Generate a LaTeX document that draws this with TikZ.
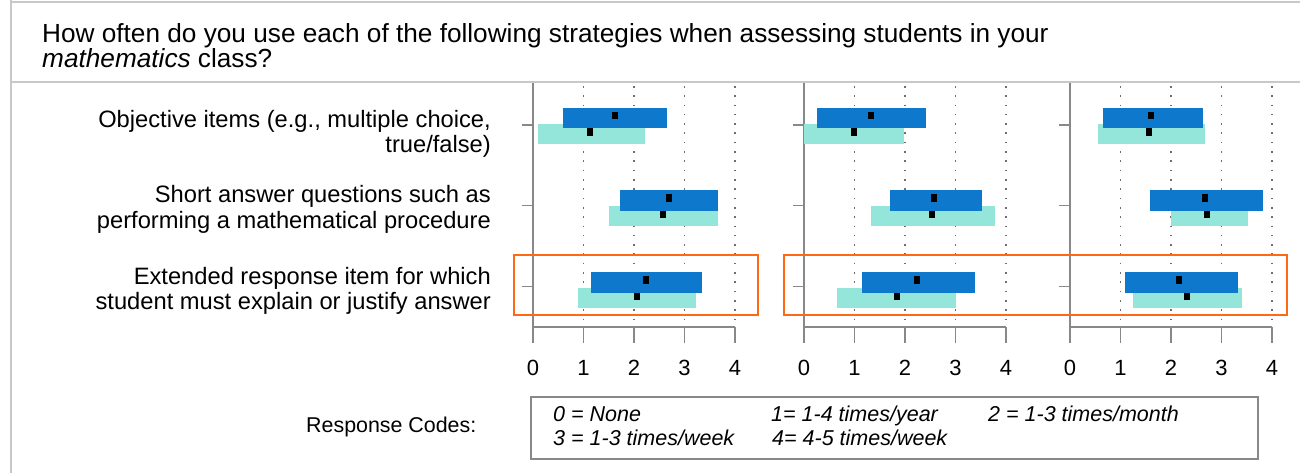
\documentclass[tikz,border=0pt]{standalone}
\usepackage{fontspec}
\setmainfont{Liberation Sans}
\definecolor{barDark}{RGB}{14,120,204}
\definecolor{barLight}{RGB}{148,230,218}
\definecolor{frameGray}{RGB}{200,200,200}
\definecolor{axisGray}{RGB}{136,136,136}
\definecolor{dotGray}{RGB}{110,110,110}
\definecolor{hiOrange}{RGB}{255,105,20}
% one pair of bars for a panel row:
% #1 top of the dark bar, #2 #3 dark bar ends, #4 dark marker,
% #5 #6 light bar ends, #7 light marker
\newcommand\statbars[7]{%
  \fill[barLight] (#5,#1+16) rectangle (#6,#1+35.7);
  \fill[barDark] (#2,#1) rectangle (#3,#1+20.5);
  \fill[black] (#4-3,#1+4) rectangle (#4+3,#1+11.5);
  \fill[black] (#7-3,#1+20.5) rectangle (#7+3,#1+28);
}
\begin{document}
\begin{tikzpicture}[x=1pt,y=-1pt,
  frame/.style={draw=frameGray,line width=2pt},
  axisline/.style={draw=axisGray,line width=1.5pt},
  griddot/.style={draw=dotGray,line width=1.6pt,dash pattern=on 1.6pt off 7.7pt},
  hibox/.style={draw=hiOrange,line width=2pt},
  legendbox/.style={draw=axisGray,line width=1.8pt},
  title/.style={anchor=base west,inner sep=0pt,font=\fontsize{26.2}{26}\selectfont},
  rowlabel/.style={anchor=base east,inner sep=0pt,font=\fontsize{23.7}{24}\selectfont},
  ticklabel/.style={anchor=base,inner sep=0pt,font=\fontsize{22}{22}\selectfont},
  code/.style={anchor=base west,inner sep=0pt,font=\fontsize{21.5}{21}\selectfont\itshape}]
\useasboundingbox (0,0) rectangle (1300,473);
\fill[white] (0,0) rectangle (1300,473);

% outer frame and header divider
\draw[frame] (11,0) -- (11,473);
\draw[frame] (11,2.5) -- (1300,2.5);
\draw[frame] (11,82) -- (1300,82);

% header question
\node[title] (q1) at (42,42.5) {How often do you use each of the following strategies when assessing students in your};
\node[title] (q2) at (42,68) {\textit{mathematics} class?};

% row labels
\node[rowlabel] (r1a) at (491,128) {Objective items (e.g., multiple choice,};
\node[rowlabel] (r1b) at (491,153) {true/false)};
\node[rowlabel] (r2a) at (491,203) {Short answer questions such as};
\node[rowlabel] (r2b) at (491,228) {performing a mathematical procedure};
\node[rowlabel] (r3a) at (491,284) {Extended response item for which};
\node[rowlabel] (r3b) at (491,309) {student must explain or justify answer};

% three panels: grid, axes, ticks
\foreach \px in {533,804,1070}{
  \foreach \i in {1,2,3,4}
    \draw[griddot] (\px+\i*50.5,86) -- (\px+\i*50.5,327);
  \draw[axisline] (\px,83) -- (\px,343);
  \draw[axisline] (\px,327) -- (\px+202,327);
  \foreach \i in {0,1,2,3,4}{
    \draw[axisline] (\px+\i*50.5,327) -- (\px+\i*50.5,343);
    \node[ticklabel] at (\px+\i*50.5,375) {\i};
  }
  \foreach \ty in {125,205.5,286.5}
    \draw[axisline] (\px-11,\ty) -- (\px,\ty);
}

% panel 1
\statbars{108}{563}{666.7}{614.8}{538}{645}{590}
\statbars{190}{620}{718}{669}{609}{718}{663}
\statbars{272}{591}{702}{646}{578}{696}{637}
% panel 2
\statbars{108}{817}{926}{871}{804}{904}{854}
\statbars{190}{890}{982}{934}{871}{995}{932}
\statbars{272}{862}{975}{917}{837}{956}{897}
% panel 3
\statbars{108}{1103}{1203}{1151}{1098}{1205}{1149}
\statbars{190}{1150}{1263}{1205}{1171}{1248}{1207}
\statbars{272}{1125}{1238}{1179}{1133}{1242}{1187}

% highlighted row
\draw[hibox] (514,255) rectangle (757.5,315);
\draw[hibox] (783.5,255) rectangle (1286.5,315);

% response codes
\node[anchor=base west,inner sep=0pt,font=\fontsize{21.4}{22}\selectfont] (rc) at (306,432) {Response Codes:};
\draw[legendbox] (531,397) rectangle (1258,459);
\node[code] (c0) at (553,421) {0 = None};
\node[code] (c1) at (771,421) {1= 1-4 times/year};
\node[code] (c2) at (988,421) {2 = 1-3 times/month};
\node[code] (c3) at (553,445) {3 = 1-3 times/week};
\node[code] (c4) at (772,445) {4= 4-5 times/week};
\end{tikzpicture}
\end{document}
